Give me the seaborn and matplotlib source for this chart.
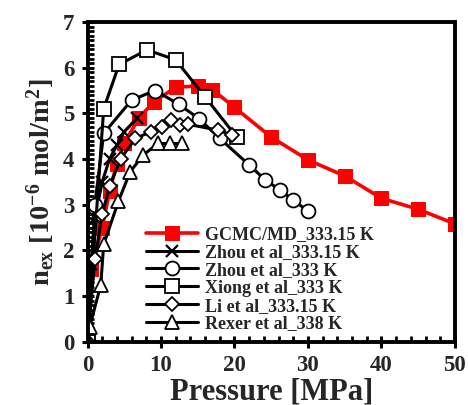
import numpy as np
import pandas as pd
import seaborn as sns
import matplotlib
matplotlib.use("Agg")
import matplotlib.pyplot as plt
from matplotlib.ticker import MultipleLocator

# Excess adsorption of CH4 vs pressure: simulation and literature data
gcmc_p = [0, 0.5, 2, 3, 4, 5, 7, 9, 12, 15, 17, 20, 25, 30, 35, 40, 45, 50]
gcmc_n = [0, 1.6, 2.5, 3.3, 3.9, 4.35, 4.9, 5.25, 5.57, 5.6, 5.52, 5.13, 4.48, 3.98, 3.63, 3.14, 2.9, 2.58]

zhou15_p = [0, 0.5, 1, 2, 3, 4, 5, 6.8]
zhou15_n = [0, 1.7, 2.7, 3.5, 4.0, 4.3, 4.6, 4.9]

zhou_p = [0, 1, 2.2, 6, 9.2, 12.4, 15.2, 18, 22, 24.2, 26.2, 28, 30]
zhou_n = [0, 3.0, 4.56, 5.29, 5.5, 5.2, 4.88, 4.45, 3.87, 3.54, 3.32, 3.1, 2.86]

xiong_p = [0, 2.2, 4.3, 8.1, 12, 16, 20.3]
xiong_n = [0, 5.1, 6.07, 6.39, 6.17, 5.36, 4.48]

li_p = [0, 1, 2, 3, 4.5, 6.5, 8.7, 10.1, 11.3, 12.6, 13.7, 17.8, 19.6]
li_n = [0, 1.8, 2.8, 3.4, 4.0, 4.45, 4.6, 4.71, 4.85, 4.75, 4.76, 4.63, 4.53]

rexer_p = [0, 0.3, 1.8, 2.2, 4.2, 5.8, 7.6, 9.6, 11.2, 12.8]
rexer_n = [0, 0.33, 1.24, 2.13, 3.07, 3.72, 4.09, 4.34, 4.34, 4.34]

labels = ["GCMC/MD_333.15 K", "Zhou et al_333.15 K", "Zhou et al_333 K",
          "Xiong et al_333 K", "Li et al_333.15 K", "Rexer et al_338 K"]

x_ticks = [0, 10, 20, 30, 40, 50]
y_ticks = [0, 1, 2, 3, 4, 5, 6, 7]

sns.set_theme(style="white")
plt.rcParams["font.family"] = ["Liberation Serif", "DejaVu Serif"]
plt.rcParams["font.weight"] = "bold"
plt.rcParams["mathtext.fontset"] = "custom"
plt.rcParams["mathtext.rm"] = "Liberation Serif:bold"
plt.rcParams["mathtext.it"] = "Liberation Serif:bold"
plt.rcParams["mathtext.bf"] = "Liberation Serif:bold"

fig = plt.figure(figsize=(4.68, 4.05), dpi=100)
ax = fig.add_axes([0.187, 0.1563, 0.785, 0.7894])

series = [
    (gcmc_p, gcmc_n, dict(color="#ff0000", marker="s", markersize=10,
                          markerfacecolor="#ff0000", markeredgecolor="#ff0000",
                          linewidth=2.6)),
    (zhou15_p, zhou15_n, dict(color="black", marker="x", markersize=8,
                              markeredgecolor="black",
                              markeredgewidth=1.6, linewidth=2.2)),
    (zhou_p, zhou_n, dict(color="black", marker="o", markersize=10,
                          markerfacecolor="white", markeredgecolor="black",
                          markeredgewidth=1.3, linewidth=2.2)),
    (xiong_p, xiong_n, dict(color="black", marker="s", markersize=10.5,
                            markerfacecolor="white", markeredgecolor="black",
                            markeredgewidth=1.3, linewidth=2.2)),
    (li_p, li_n, dict(color="black", marker="D", markersize=7.5,
                      markerfacecolor="white", markeredgecolor="black",
                      markeredgewidth=1.3, linewidth=2.2)),
    (rexer_p, rexer_n, dict(color="black", marker="^", markersize=9.5,
                            markerfacecolor="white", markeredgecolor="black",
                            markeredgewidth=1.3, linewidth=2.2)),
]

for lab, (px, ny, kw) in zip(labels, series):
    df = pd.DataFrame({"P": px, "n": ny})
    sns.lineplot(data=df, x="P", y="n", ax=ax, sort=False, estimator=None,
                 label=lab, **kw)

ax.set_xlim(0, 50)
ax.set_ylim(0, 7)
ax.set_xticks(x_ticks)
ax.set_yticks(y_ticks)
ax.xaxis.set_minor_locator(MultipleLocator(2))
ax.yaxis.set_minor_locator(MultipleLocator(0.1))
ax.tick_params(which="major", direction="inout", length=9, width=2.2,
               labelsize=16.5, pad=5, color="black", bottom=True, left=True)
ax.tick_params(which="minor", direction="in", length=4, width=2,
               color="black", bottom=True, left=True)
for lbl in ax.get_xticklabels() + ax.get_yticklabels():
    lbl.set_fontweight("bold")

for s in ax.spines.values():
    s.set_linewidth(2.8)
    s.set_color("black")

ax.set_xlabel("Pressure [MPa]", fontsize=22, fontweight="bold", labelpad=1)
ax.set_ylabel(r"n$_{\mathrm{ex}}$ [10$^{-6}$ mol/m$^{2}$]", fontsize=20.5,
              fontweight="bold", labelpad=4)

leg = ax.legend(loc="lower left", bbox_to_anchor=(0.13, -0.005), frameon=False,
                fontsize=13, handlelength=2.9, handletextpad=0.35,
                labelspacing=0.05, borderaxespad=0.2)
for t in leg.get_texts():
    t.set_fontweight("bold")

fig.savefig("out.png", dpi=100)
